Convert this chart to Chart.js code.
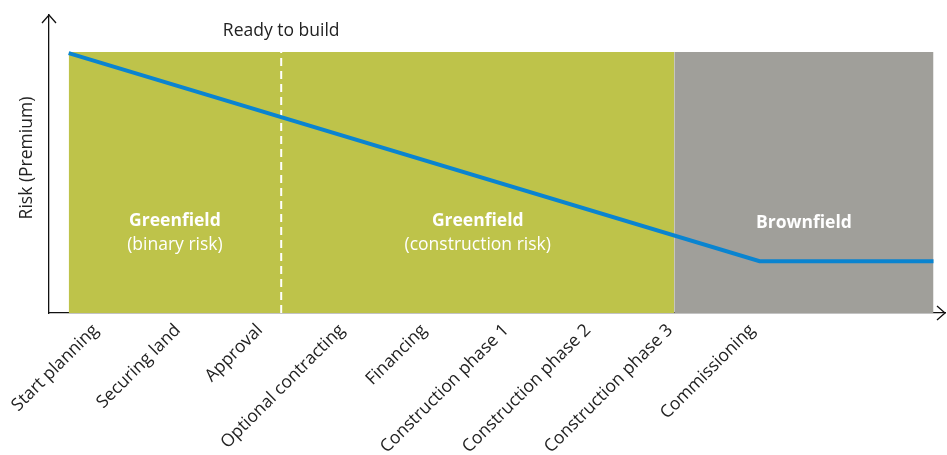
<!DOCTYPE html>
<html>
<head>
<meta charset="utf-8">
<script src="https://cdn.jsdelivr.net/npm/chart.js@4"></script>
<style>
  html, body { margin: 0; padding: 0; background: #fff; }
  #wrap { width: 947px; height: 455px; }
</style>
</head>
<body>
<div id="wrap"><canvas id="risk-chart"></canvas></div>
<script>
// project stages, one tick each (x = 0..8)
var stages = [
  "Start planning", "Securing land", "Approval", "Optional contracting",
  "Financing", "Construction phase 1", "Construction phase 2",
  "Construction phase 3", "Commissioning"
];
// risk premium line
var riskX = [-0.33, 8.09, 10.21];
var riskY = [87.2, 17.4, 17.4];
// phase bands [from, to] and their height
var greenBand = [-0.33, 7.05];
var greyBand = [7.05, 10.21];
var bandTop = 87.6;
var readyX = 2.26;

var font = "'Open Sans', 'Noto Sans', sans-serif";

function pts(xs, ys) {
  return xs.map(function (x, i) { return { x: x, y: ys[i] }; });
}

var notesPlugin = {
  id: "notes",
  afterDraw: function (chart) {
    var c = chart.ctx, xs = chart.scales.x, ys = chart.scales.y, a = chart.chartArea;
    c.save();
    // axis arrows
    c.strokeStyle = "#111";
    c.lineWidth = 1.3;
    c.beginPath();
    c.moveTo(a.left - 7, a.top + 8); c.lineTo(a.left, a.top); c.lineTo(a.left + 7, a.top + 8);
    c.moveTo(a.right - 8, a.bottom - 7); c.lineTo(a.right, a.bottom); c.lineTo(a.right - 8, a.bottom + 7);
    c.stroke();
    // y title
    c.fillStyle = "#222";
    c.font = "17.5px " + font;
    c.textAlign = "center";
    c.textBaseline = "middle";
    c.translate(27, ys.getPixelForValue(52));
    c.rotate(-Math.PI / 2);
    c.fillText("Risk (Premium)", 0, 0);
    c.restore();

    c.save();
    c.textAlign = "center";
    c.textBaseline = "middle";
    c.fillStyle = "#222";
    c.font = "17.5px " + font;
    c.fillText("Ready to build", xs.getPixelForValue(readyX), 31);
    c.fillStyle = "#fff";
    var mid1 = xs.getPixelForValue((greenBand[0] + readyX) / 2);
    var mid2 = xs.getPixelForValue((readyX + greenBand[1]) / 2);
    var mid3 = xs.getPixelForValue((greyBand[0] + greyBand[1]) / 2);
    c.font = "bold 17.5px " + font;
    c.fillText("Greenfield", mid1, 221);
    c.fillText("Greenfield", mid2, 221);
    c.fillText("Brownfield", mid3, 223);
    c.font = "17.5px " + font;
    c.fillText("(binary risk)", mid1, 245);
    c.fillText("(construction risk)", mid2, 245);
    c.restore();
  }
};

new Chart(document.getElementById("risk-chart"), {
  type: "line",
  data: {
    datasets: [
      {
        data: pts(riskX, riskY),
        borderColor: "#0a84d0",
        borderWidth: 4,
        pointRadius: 0,
        fill: false,
        order: 0
      },
      {
        data: pts([readyX, readyX], [0, bandTop]),
        borderColor: "#ffffff",
        borderWidth: 2,
        borderDash: [8, 5],
        pointRadius: 0,
        fill: false,
        order: 1
      },
      {
        data: pts(greenBand, [bandTop, bandTop]),
        borderWidth: 0,
        borderColor: "rgba(0,0,0,0)",
        backgroundColor: "#bec34a",
        pointRadius: 0,
        fill: "origin",
        order: 2
      },
      {
        data: pts(greyBand, [bandTop, bandTop]),
        borderWidth: 0,
        borderColor: "rgba(0,0,0,0)",
        backgroundColor: "#a09f9a",
        pointRadius: 0,
        fill: "origin",
        order: 2
      }
    ]
  },
  options: {
    responsive: true,
    maintainAspectRatio: false,
    animation: false,
    layout: { padding: { left: 49, top: 15, right: 2, bottom: 0 } },
    plugins: { legend: { display: false }, tooltip: { enabled: false } },
    scales: {
      x: {
        type: "linear",
        min: -0.57,
        max: 10.35,
        grid: { display: false, drawTicks: false },
        border: { color: "#111", width: 1.3 },
        afterBuildTicks: function (s) {
          s.ticks = stages.map(function (t, i) { return { value: i }; });
        },
        afterFit: function (s) {
          s.height = 142;
          s.paddingLeft = 0;
          s.paddingRight = 0;
        },
        ticks: {
          autoSkip: false,
          minRotation: 45,
          maxRotation: 45,
          padding: 7,
          color: "#222",
          font: { family: font, size: 17.5 },
          callback: function (v) { return stages[v]; }
        }
      },
      y: {
        min: 0,
        max: 100,
        grid: { display: false, drawTicks: false },
        border: { color: "#111", width: 1.3 },
        ticks: { display: false },
        afterFit: function (s) { s.width = 0; }
      }
    }
  },
  plugins: [notesPlugin]
});
</script>
</body>
</html>
